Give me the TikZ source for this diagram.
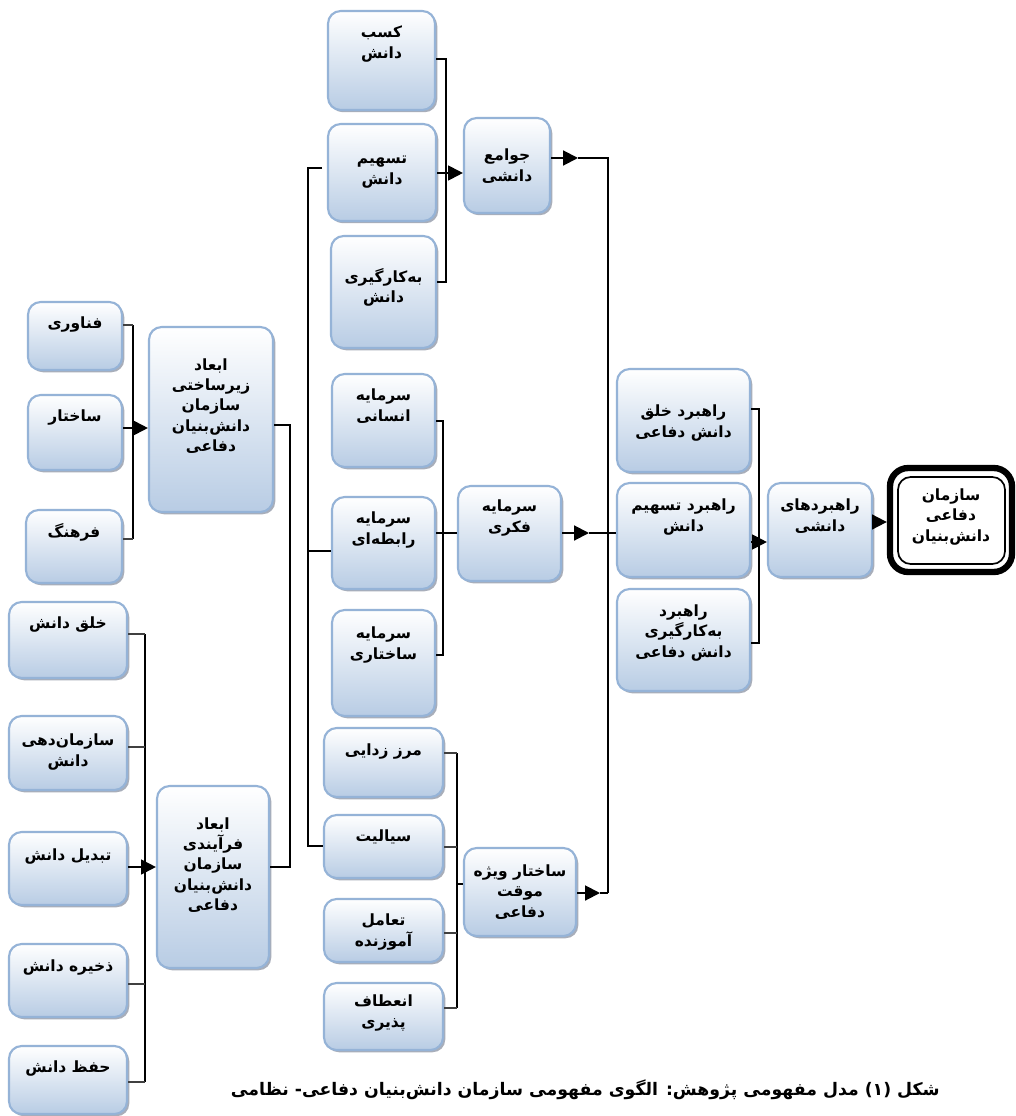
\documentclass[tikz,border=0pt]{standalone}
\usepackage{fontspec}
\newfontfamily\arabicfont[Script=Arabic]{DejaVu Sans}
\TeXXeTstate=1
\usetikzlibrary{arrows.meta,shadows,fit}
\definecolor{boxborder}{RGB}{149,179,215}
\definecolor{boxfill}{RGB}{184,204,228}
\definecolor{shadowc}{RGB}{110,120,140}
\newcommand\ar[1]{\beginR #1\endR}
\tikzset{
 box/.style={draw=boxborder, line width=1.5pt, rounded corners=9pt, top color=white, bottom color=boxfill, inner sep=0pt,
   drop shadow={shadow xshift=1.6pt, shadow yshift=-1.6pt, fill=shadowc, opacity=0.6}},
 lbl/.style={font=\arabicfont\bfseries\fontsize{11pt}{14.4pt}\selectfont, align=center, inner sep=0pt},
 ln/.style={line width=1.4pt},
 stub/.style={line width=1.7pt, draw=black!75},
 arr/.style={line width=1.4pt, -{Triangle[length=10.5pt,width=10.5pt]}},
}
\newcommand\bx[7]{\node[box, fit={(#2,#3)(#4,#5)}] (#1) {}; \node[lbl] (#1-t) at ({(#2+#4)/2},#6) {#7};}
\begin{document}
\begin{tikzpicture}[x=0.025cm,y=-0.025cm]
\fill[white] (0,0) rectangle (1016,1116);
\useasboundingbox (0,0) rectangle (1016,1116);
% left top
\bx{fan}{28}{302}{122}{370}{325}{\ar{فناوری}}
\bx{sakh}{28}{395}{122}{470}{418}{\ar{ساختار}}
\bx{farh}{26}{510}{122}{583}{532}{\ar{فرهنگ}}
\bx{zir}{149}{327}{273}{512}{406}{\ar{ابعاد}\\\ar{زیرساختی}\\\ar{سازمان}\\\ar{دانش‌بنیان}\\\ar{دفاعی}}
% left bottom
\bx{kho}{9}{602}{127}{678}{625}{\ar{خلق دانش}}
\bx{sdh}{9}{716}{127}{790}{752}{\ar{سازمان‌دهی}\\\ar{دانش}}
\bx{tab}{9}{832}{127}{905}{857}{\ar{تبدیل دانش}}
\bx{zak}{9}{944}{127}{1017}{968}{\ar{ذخیره دانش}}
\bx{hef}{9}{1046}{127}{1114}{1068}{\ar{حفظ دانش}}
\bx{far}{157}{786}{269}{968}{865}{\ar{ابعاد}\\\ar{فرآیندی}\\\ar{سازمان}\\\ar{دانش‌بنیان}\\\ar{دفاعی}}
% middle
\bx{kasb}{328}{11}{435}{110}{44}{\ar{کسب}\\\ar{دانش}}
\bx{tash}{328}{124}{436}{221}{172}{\ar{تسهیم}\\\ar{دانش}}
\bx{bek}{331}{236}{436}{348}{287}{\ar{به‌کارگیری}\\\ar{دانش}}
\bx{jaw}{464}{118}{550}{213}{166}{\ar{جوامع}\\\ar{دانشی}}
\bx{ens}{332}{374}{435}{467}{406}{\ar{سرمایه}\\\ar{انسانی}}
\bx{rab}{332}{497}{435}{589}{530}{\ar{سرمایه}\\\ar{رابطه‌ای}}
\bx{sakt}{332}{610}{435}{716}{645}{\ar{سرمایه}\\\ar{ساختاری}}
\bx{fek}{458}{486}{561}{581}{518}{\ar{سرمایه}\\\ar{فکری}}
\bx{marz}{324}{728}{443}{797}{752}{\ar{مرز زدایی}}
\bx{say}{324}{815}{443}{878}{837}{\ar{سیالیت}}
\bx{taa}{324}{899}{443}{962}{932}{\ar{تعامل}\\\ar{آموزنده}}
\bx{ene}{324}{983}{443}{1050}{1013}{\ar{انعطاف}\\\ar{پذیری}}
\bx{viz}{464}{848}{576}{936}{892}{\ar{ساختار ویژه}\\\ar{موقت}\\\ar{دفاعی}}
% right
\bx{rkh}{617}{369}{750}{472}{423}{\ar{راهبرد خلق}\\\ar{دانش دفاعی}}
\bx{rts}{617}{483}{750}{577}{517}{\ar{راهبرد تسهیم}\\\ar{دانش}}
\bx{rbk}{617}{589}{750}{691}{633}{\ar{راهبرد}\\\ar{به‌کارگیری}\\\ar{دانش دفاعی}}
\bx{rha}{768}{483}{872}{577}{516}{\ar{راهبردهای}\\\ar{دانشی}}
% final
\node[draw, line width=4.5pt, rounded corners=13pt, fit={(890,468)(1012,572)}, inner sep=0pt] (fin) {};
\node[draw, line width=1.2pt, rounded corners=9pt, fit={(898,477)(1005,564)}, inner sep=0pt] (finin) {};
\node[lbl] (fin-t) at (951,517) {\ar{سازمان}\\\ar{دفاعی}\\\ar{دانش‌بنیان}};
% bracket 1
\coordinate (b1t) at (133,325); \coordinate (b1b) at (133,539); \coordinate (b1m) at (133,428);
\draw[ln] (b1t) -- (b1b);
\draw[stub] (fan.east|-b1t) -- (b1t);
\draw[stub] (farh.east|-b1b) -- (b1b);
\draw[arr] (sakh.east|-b1m) -- (zir.west|-b1m);
% x=290
\coordinate (v1t) at (290,425); \coordinate (v1b) at (290,867);
\draw[ln] (zir.east|-v1t) -- (v1t) -- (v1b) -- (far.east|-v1b);
% bracket 2
\coordinate (b2t) at (145,634); \coordinate (b2b) at (145,1082); \coordinate (b2m) at (145,867);
\coordinate (b2a) at (145,747); \coordinate (b2c) at (145,984);
\draw[ln] (b2t) -- (b2b);
\draw[stub] (kho.east|-b2t) -- (b2t);
\draw[stub] (sdh.east|-b2a) -- (b2a);
\draw[stub] (zak.east|-b2c) -- (b2c);
\draw[stub] (hef.east|-b2b) -- (b2b);
\draw[arr] (tab.east|-b2m) -- (far.west|-b2m);
% x=308
\coordinate (v2t) at (308,168); \coordinate (v2m) at (308,551); \coordinate (v2b) at (308,846); \coordinate (v2s) at (322,168);
\draw[ln] (v2s) -- (v2t) -- (v2b) -- (say.west|-v2b);
\draw[ln] (v2m) -- (rab.west|-v2m);
% bracket 3
\coordinate (b3t) at (446,59); \coordinate (b3b) at (446,282); \coordinate (b3m) at (446,173);
\draw[ln] (kasb.east|-b3t) -- (b3t) -- (b3b) -- (bek.east|-b3b);
\draw[arr] (tash.east|-b3m) -- (jaw.west|-b3m);
% jawame output and x=608
\coordinate (j1) at (578,158); \coordinate (v3t) at (608,158); \coordinate (v3b) at (608,893);
\draw[arr] (jaw.east|-j1) -- (j1);
\draw[ln] (j1) -- (v3t) -- (v3b);
% bracket 4
\coordinate (b4t) at (443,421); \coordinate (b4b) at (443,655); \coordinate (b4m) at (443,533);
\draw[ln] (ens.east|-b4t) -- (b4t) -- (b4b) -- (sakt.east|-b4b);
\draw[ln] (rab.east|-b4m) -- (fek.west|-b4m);
\coordinate (f1) at (589,533);
\draw[arr] (fek.east|-f1) -- (f1);
\draw[ln] (f1) -- (rts.west|-f1);
% bracket 5
\coordinate (b5t) at (457,753); \coordinate (b5b) at (457,1008); \coordinate (b5m) at (457,884);
\coordinate (b5a) at (457,847); \coordinate (b5c) at (457,933);
\draw[ln] (b5t) -- (b5b);
\draw[stub] (marz.east|-b5t) -- (b5t);
\draw[stub] (say.east|-b5a) -- (b5a);
\draw[stub] (taa.east|-b5c) -- (b5c);
\draw[stub] (ene.east|-b5b) -- (b5b);
\draw[ln] (b5m) -- (viz.west|-b5m);
\coordinate (s1) at (600,893);
\draw[arr] (viz.east|-s1) -- (s1);
\draw[ln] (s1) -- (v3b);
% bracket 6
\coordinate (b6t) at (759,409); \coordinate (b6b) at (759,643); \coordinate (b6m) at (759,542);
\draw[ln] (rkh.east|-b6t) -- (b6t) -- (b6b) -- (rbk.east|-b6b);
\draw[arr] (rts.east|-b6m) -- (rha.west|-b6m);
\coordinate (r1) at (887,522);
\draw[arr] (rha.east|-r1) -- (fin.west|-r1);
% caption
\node[font=\arabicfont\bfseries\fontsize{12.3pt}{15pt}\selectfont, anchor=east, inner sep=0pt] (cap) at (940,1090)
 {\ar{شکل (۱) مدل مفهومی پژوهش: الگوی مفهومی سازمان دانش‌بنیان دفاعی- نظامی}};
\end{tikzpicture}
\end{document}
